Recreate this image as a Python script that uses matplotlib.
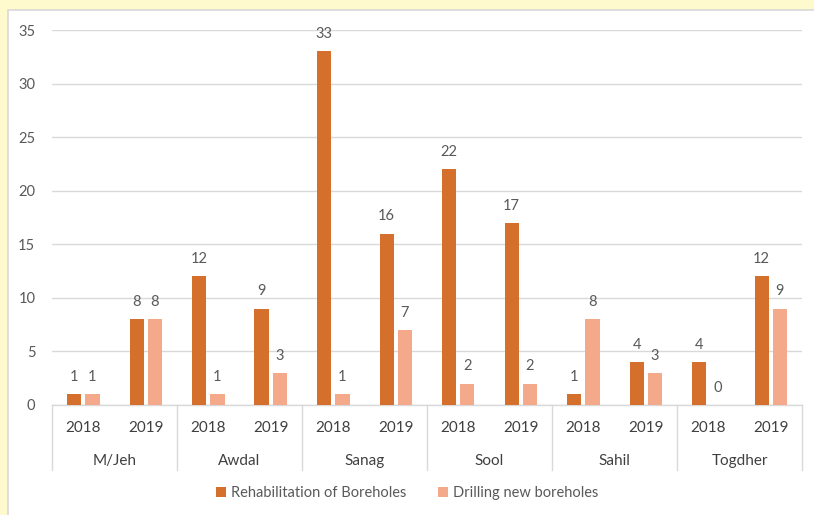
import matplotlib
matplotlib.use("Agg")
import matplotlib.pyplot as plt
from matplotlib.patches import Rectangle
from matplotlib.lines import Line2D
import numpy as np

regions = ["M/Jeh", "Awdal", "Sanag", "Sool", "Sahil", "Togdher"]
years = ["2018", "2019"]
rehab = [1, 8, 12, 9, 33, 16, 22, 17, 1, 4, 4, 12]
drilling = [1, 8, 1, 3, 1, 7, 2, 2, 8, 3, 0, 9]
series_names = ["Rehabilitation of Boreholes", "Drilling new boreholes"]

plt.rcParams['font.family'] = ['Lato', 'DejaVu Sans']

W, H = 814, 515
fig = plt.figure(figsize=(W / 100, H / 100), dpi=100)
fig.patch.set_facecolor("#FFFACD")
fig.patches.append(Rectangle((8 / W, -0.1), 1, 1.1 - 10 / H, transform=fig.transFigure,
                             facecolor="white", edgecolor="#D9D9D9", linewidth=1.2, zorder=-10))

left, right, top, bottom = 52 / W, 802 / W, 1 - 30 / H, 1 - 405 / H
ax = fig.add_axes([left, bottom, right - left, top - bottom])
ax.set_facecolor("none")
ax.set_zorder(1)

dark = "#D4702C"
light = "#F3A98A"
txt = "#595959"

x = np.arange(len(rehab))
bw = 0.23
off = 0.145
ax.bar(x - off, rehab, width=bw, color=dark, zorder=3, label=series_names[0])
ax.bar(x + off, drilling, width=bw, color=light, zorder=3, label=series_names[1])
for xi, v in zip(x, rehab):
    ax.text(xi - off, v + 0.95, str(v), ha="center", va="bottom", fontsize=10.5, color=txt)
for xi, v in zip(x, drilling):
    ax.text(xi + off, v + 0.95, str(v), ha="center", va="bottom", fontsize=10.5, color=txt)

ax.set_xlim(-0.5, len(rehab) - 0.5)
ax.set_ylim(0, 35)
ax.set_yticks(range(0, 36, 5))
ax.tick_params(axis="y", length=0, labelsize=10.5, labelcolor=txt, pad=12)
ax.set_xticks([])
ax.yaxis.grid(True, color="#D9D9D9", linewidth=1, zorder=0)
for s in ["top", "right", "left"]:
    ax.spines[s].set_visible(False)
ax.spines["bottom"].set_color("#D9D9D9")
ax.spines["bottom"].set_linewidth(1)

# category axis
trans = ax.get_xaxis_transform()
for i in range(len(regions) + 1):
    xb = i * 2 - 0.5
    ax.add_line(Line2D([xb, xb], [0, -65 / 375], transform=trans,
                       color="#D9D9D9", linewidth=1, clip_on=False))
for xi in x:
    ax.text(xi, -23 / 375, years[xi % 2], transform=trans, ha="center", va="center",
            fontsize=11, color="#404040")
for i, r in enumerate(regions):
    ax.text(i * 2 + 0.5, -56 / 375, r, transform=trans, ha="center", va="center",
            fontsize=11, color="#404040")

ax.legend(loc="center", bbox_to_anchor=(0.5, 1 - 493 / H), bbox_transform=fig.transFigure,
          ncol=2, frameon=False, fontsize=10.5, labelcolor=txt, handlelength=0.7,
          handleheight=0.7, columnspacing=2.2, handletextpad=0.3)

fig.savefig("out.png", dpi=100, facecolor=fig.get_facecolor())
